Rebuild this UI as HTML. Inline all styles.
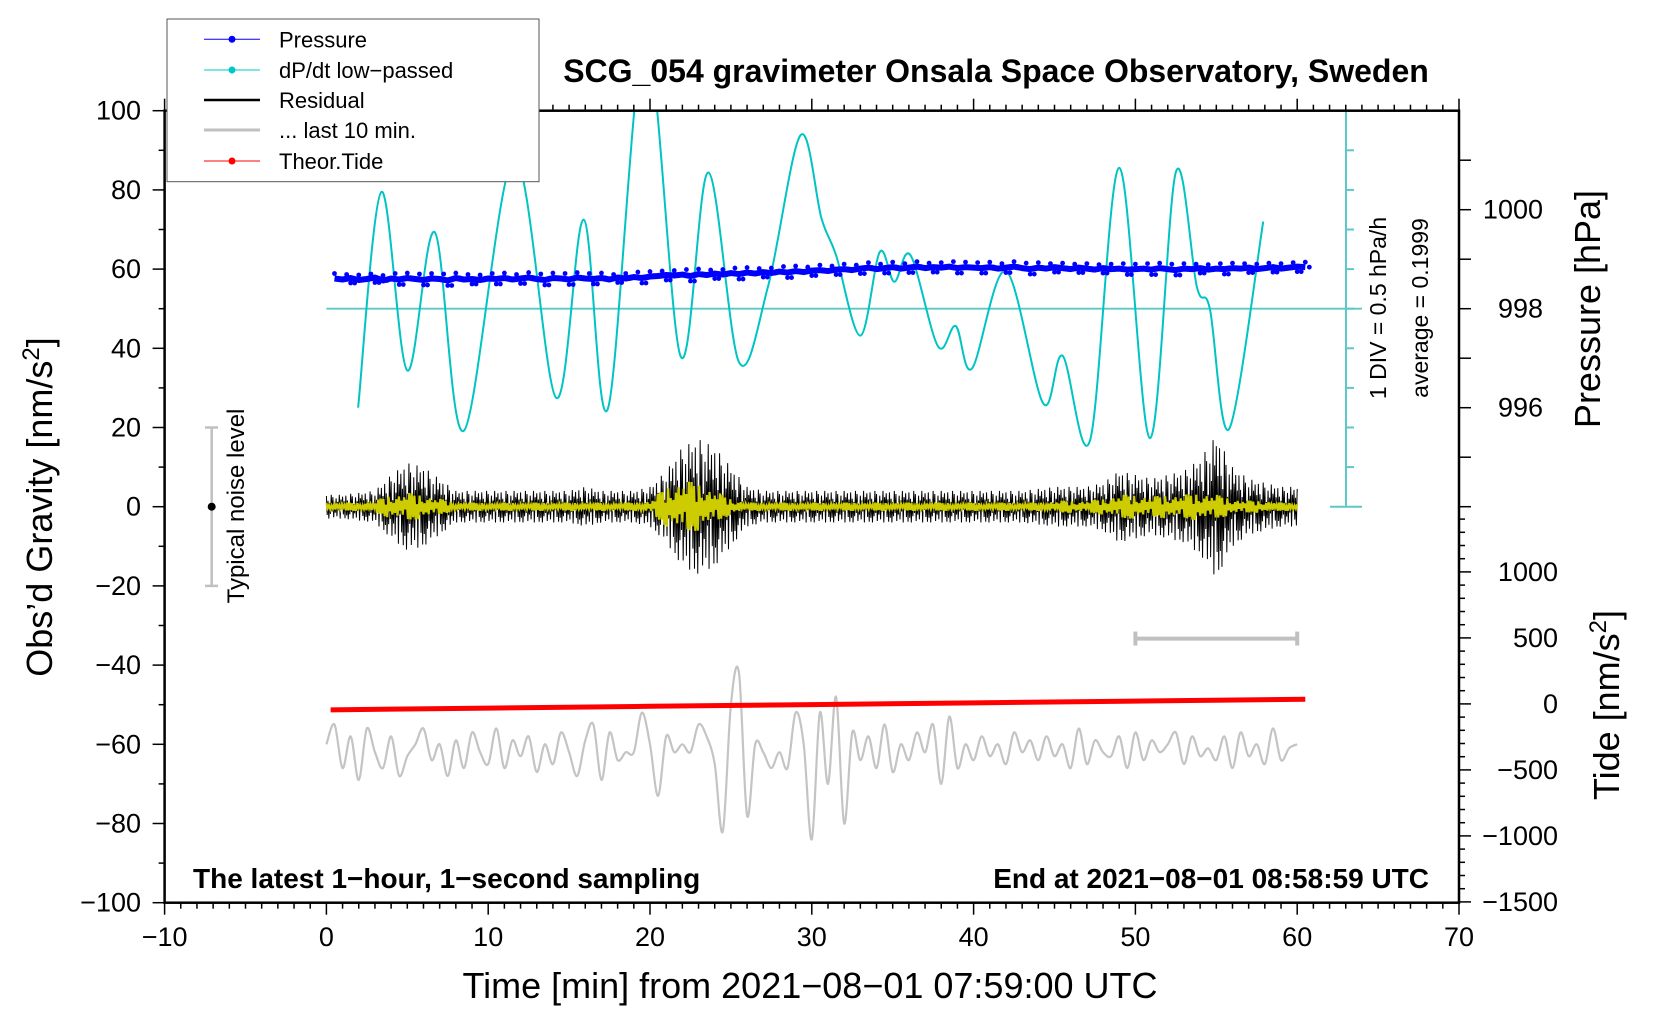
<!DOCTYPE html>
<html><head><meta charset="utf-8">
<style>
html,body{margin:0;padding:0;background:#fff;}
svg{display:block;font-family:"Liberation Sans",Arial,sans-serif;}
</style></head>
<body>
<svg id="chart" width="1660" height="1020" viewBox="0 0 1660 1020" xmlns="http://www.w3.org/2000/svg">
<defs><clipPath id="plotclip"><rect x="164.6" y="110.7" width="1294.4" height="792"/></clipPath></defs>
<rect x="0" y="0" width="1660" height="1020" fill="#fff"/>
<g id="marks" clip-path="url(#plotclip)"></g>
<g id="axes"></g>
<text x="996" y="82" font-size="32" font-weight="bold" text-anchor="middle">SCG_054 gravimeter Onsala Space Observatory, Sweden</text>
<text x="810" y="998" font-size="36" text-anchor="middle">Time [min] from 2021−08−01 07:59:00 UTC</text>
<text transform="translate(52,507) rotate(-90)" font-size="36" text-anchor="middle">Obs’d Gravity [nm/s<tspan font-size="24" dy="-13">2</tspan><tspan dy="13">]</tspan></text>
<text transform="translate(1600,309) rotate(-90)" font-size="36" text-anchor="middle">Pressure [hPa]</text>
<text transform="translate(1619,705) rotate(-90)" font-size="36" text-anchor="middle">Tide [nm/s<tspan font-size="24" dy="-13">2</tspan><tspan dy="13">]</tspan></text>
<text x="193" y="888" font-size="28" font-weight="bold">The latest 1−hour, 1−second sampling</text>
<text x="1429" y="888" font-size="28" font-weight="bold" text-anchor="end">End at 2021−08−01 08:58:59 UTC</text>
<text transform="translate(1386,308) rotate(-90)" font-size="23" text-anchor="middle">1 DIV = 0.5 hPa/h</text>
<text transform="translate(1428,308) rotate(-90)" font-size="23" text-anchor="middle">average = 0.1999</text>
<g>
<line x1="211.7" y1="427.5" x2="211.7" y2="585.9" stroke="#c0c0c0" stroke-width="2.5"/>
<line x1="205" y1="427.5" x2="218" y2="427.5" stroke="#c0c0c0" stroke-width="2.5"/>
<line x1="205" y1="585.9" x2="218" y2="585.9" stroke="#c0c0c0" stroke-width="2.5"/>
<circle cx="211.7" cy="506.7" r="4" fill="#000"/>
<text transform="translate(244,506) rotate(-90)" font-size="24" text-anchor="middle">Typical noise level</text>
</g>
<g id="legend">
<rect x="167" y="19" width="372" height="162.7" fill="#fff" stroke="#555" stroke-width="1"/>
<g><line x1="204" y1="39.3" x2="260" y2="39.3" stroke="#0000ff" stroke-width="1"/><circle cx="232" cy="39.3" r="3.5" fill="#0000ff"/><text x="279" y="47.5" font-size="22">Pressure</text></g>
<g><line x1="204" y1="70" x2="260" y2="70" stroke="#00c8c8" stroke-width="1"/><circle cx="232" cy="70" r="3.5" fill="#00c8c8"/><text x="279" y="78" font-size="22">dP/dt low−passed</text></g>
<g><line x1="204" y1="100" x2="260" y2="100" stroke="#000" stroke-width="2.5"/><text x="279" y="108" font-size="22">Residual</text></g>
<g><line x1="204" y1="130" x2="260" y2="130" stroke="#c0c0c0" stroke-width="3"/><text x="279" y="138" font-size="22">... last 10 min.</text></g>
<g><line x1="204" y1="161" x2="260" y2="161" stroke="#ff0000" stroke-width="1"/><circle cx="232" cy="161" r="3.5" fill="#ff0000"/><text x="279" y="169" font-size="22">Theor.Tide</text></g>
</g>
</svg>
<script>
// ---- data ----
const pressureHPa = [998.61,998.59,998.62,998.58,998.60,998.63,998.57,998.61,998.59,998.62,998.60,998.58,998.61,998.60,998.57,998.62,998.59,998.60,998.58,998.61,
998.60,998.62,998.59,998.61,998.63,998.60,998.58,998.62,998.61,998.59,998.63,998.61,998.60,998.62,998.59,998.63,998.61,998.64,998.62,998.65,
998.66,998.68,998.67,998.69,998.66,998.70,998.68,998.71,998.69,998.72,998.70,998.73,998.71,998.74,998.72,998.75,998.73,998.76,998.74,998.77,
998.78,998.76,998.79,998.80,998.78,998.81,998.83,998.80,998.82,998.84,998.81,998.83,998.85,998.82,998.84,998.83,998.85,998.82,998.84,998.83,
998.82,998.84,998.81,998.83,998.85,998.82,998.80,998.83,998.81,998.84,998.82,998.80,998.83,998.81,998.79,998.82,998.80,998.81,998.79,998.80,
998.81,998.79,998.82,998.80,998.78,998.81,998.80,998.82,998.79,998.81,998.80,998.82,998.81,998.83,998.80,998.82,998.84,998.81,998.83,998.85,998.84];
const dpdtTimes = [1.96,3.4,5.0,6.7,8.5,11.6,14.2,15.9,17.4,19.7,21.9,23.6,25.5,27.3,29.3,30.6,31.5,33.0,34.2,35.1,36.1,37.8,38.9,39.9,42.0,44.3,45.5,47.2,49.0,50.9,52.5,53.8,54.6,55.8,57.9];
const dpdtValues = [25,79.5,34.4,69.3,19.2,88,27.5,72.5,24.8,118,37.9,84.4,36.5,55.7,93.8,72.8,63.5,43.2,64.3,56.8,63.5,40.5,45.6,34.9,59.5,26.1,38.1,16.8,85.6,17.3,84.5,55.5,50,19.7,72];
const residualEnvelope = [3,3,3.5,4,8,11,10,7,4,4,4,4,4,4,4,4,5,4,4,4,5,9,15,17,15,10,5,4,4,4,4,4,4,4,4,4,4,4,4,4,4,4,4,4,4.5,5,5,5,6,9,8,7,8,9,12,18,10,7,6,5,5];
const yellowEnvelope = [1,1,1,1.5,3,3.5,3,2,1,1,1,1,1,1,1,1,1,1,1,1,1.5,5,6.5,6,4,2,1,1,1,1,1,1,1,1,1,1,1,1,1,1,1,1,1,1,1,1.5,1.5,1.5,2,3,3,2.5,3,3,3.5,3,2,1.5,1.5,1,1];
const residualPattern = [0.9,-0.7,0.5,-1,0.3,-0.6,1,-0.4,0.8,-0.9,0.2,-0.5,0.7,-0.8,0.4,-0.3,1,-1,0.6,-0.2,0.85,-0.65,0.45,-0.95];
const last10Values = [-60,-55,-66,-58,-69,-56,-62,-66,-58,-68,-63,-60,-56,-64,-60,-68,-59,-66,-57,-62,-65,-56,-66,-59,-63,-58,-67,-60,-65,-57,-62,-68,-59,-55,-69,-57,-64,-62,
-62,-52,-60,-73,-58,-62,-60,-62,-55,-58,-65,-82,-50,-42,-78,-60,-62,-66,-62,-66,-52,-60,-84,-52,-70,-48,-80,-57,-64,
-58,-66,-55,-67,-60,-64,-57,-62,-55,-70,-53,-66,-60,-64,-58,-63,-60,-65,-57,-62,-59,-64,-58,-63,-60,-66,-56,-65,-59,-62,-63,-58,-66,-57,-64,-59,-62,-60,-57,-65,-58,-63,-61,-64,-58,-66,-57,-63,-60,-65,-56,-64,-61,-60];
const tideTimes = [0.26,10,20,30,40,50,60.5];
const tideValues = [-45,-32,-18,-5,8,21,35];
const xTicks = [-10,0,10,20,30,40,50,60,70];
const yTicks = [-100,-80,-60,-40,-20,0,20,40,60,80,100];
const pressureTicks = [996,998,1000];
const tideTicks = [-1500,-1000,-500,0,500,1000];

// ---- scales ----
const X = m => 326.4 + m*16.18;
const Y = g => 902.7 - (g+100)*3.96;
const P = p => Y(50 + (p-998)*12.5);
const T = t => Y(-49.8 + t/30);
const NS = "http://www.w3.org/2000/svg";
const marks = document.getElementById('marks');
const axes = document.getElementById('axes');
function mk(tag, attrs, parent){ const e=document.createElementNS(NS,tag); for(const k in attrs) e.setAttribute(k,attrs[k]); parent.appendChild(e); return e; }
function smooth(pts){
  let d = 'M'+pts[0][0]+','+pts[0][1];
  for(let i=0;i<pts.length-1;i++){
    const p0=pts[Math.max(0,i-1)],p1=pts[i],p2=pts[i+1],p3=pts[Math.min(pts.length-1,i+2)];
    const c1=[p1[0]+(p2[0]-p0[0])/6,p1[1]+(p2[1]-p0[1])/6], c2=[p2[0]-(p3[0]-p1[0])/6,p2[1]-(p3[1]-p1[1])/6];
    d+=' C'+c1[0]+','+c1[1]+' '+c2[0]+','+c2[1]+' '+p2[0]+','+p2[1];
  }
  return d;
}

let base = mk('line',{x1:X(0),y1:Y(50),x2:1362,y2:Y(50),stroke:'#5cc8c8','stroke-width':1.8},marks);



let dp = mk('path',{d:smooth(dpdtTimes.map((t,i)=>[X(t),Y(dpdtValues[i])])),fill:'none',stroke:'#00c4c4','stroke-width':2},marks);



let pp = pressureHPa.map((p,i)=>X(0.5+i*0.5)+','+P(p)).join(' ');
let pl = mk('polyline',{points:pp,fill:'none',stroke:'#0000ff','stroke-width':6,'stroke-linejoin':'round'},marks);


pressureHPa.forEach((p,i)=>{
  const c = mk('circle',{cx:X(0.5+i*0.5),cy:P(p)+(i%3-1)*5,r:2.4,fill:'#0000ff'},marks);
  
  
  const c2 = mk('circle',{cx:X(0.75+i*0.5),cy:P(p)+((i+1)%3-1)*-5,r:2.4,fill:'#0000ff'},marks);
  
  
});

function envAt(env,m){ const i=Math.floor(m), f=m-i; const a=env[Math.min(i,env.length-1)], b=env[Math.min(i+1,env.length-1)]; return a+(b-a)*f; }
let rp=[];
for(let k=0;k<=1200;k++){ const m=k*0.05; rp.push(X(m)+','+Y(envAt(residualEnvelope,m)*residualPattern[k%residualPattern.length])); }
let rl = mk('polyline',{points:rp.join(' '),fill:'none',stroke:'#000','stroke-width':1},marks);


let yp=[];
for(let k=0;k<=750;k++){ const m=k*0.08; yp.push(X(m)+','+Y(envAt(yellowEnvelope,m)*residualPattern[(k*7)%residualPattern.length])); }
let yl = mk('polyline',{points:yp.join(' '),fill:'none',stroke:'#cccc00','stroke-width':2.2},marks);



let gl = mk('path',{d:smooth(last10Values.map((v,i)=>[X(i*0.5),Y(v)])),fill:'none',stroke:'#c4c4c4','stroke-width':2.2},marks);



let tp = tideTimes.map((t,i)=>X(t)+','+T(tideValues[i])).join(' ');
let tl = mk('polyline',{points:tp,fill:'none',stroke:'#ff0000','stroke-width':5},marks);



let br = mk('g',{stroke:'#c0c0c0','stroke-width':4},axes);


mk('line',{x1:X(50),y1:Y(-33.3),x2:X(60),y2:Y(-33.3)},br);
mk('line',{x1:X(50),y1:Y(-33.3)-7,x2:X(50),y2:Y(-33.3)+7},br);
mk('line',{x1:X(60),y1:Y(-33.3)-7,x2:X(60),y2:Y(-33.3)+7},br);

let ca = mk('g',{stroke:'#5cc8c8','stroke-width':2},axes);


mk('line',{x1:1346,y1:Y(100),x2:1346,y2:Y(0)},ca);
mk('line',{x1:1330,y1:Y(100),x2:1362,y2:Y(100)},ca);
mk('line',{x1:1330,y1:Y(0),x2:1362,y2:Y(0)},ca);
for(let v=10;v<100;v+=10) mk('line',{x1:1346,y1:Y(v),x2:1354,y2:Y(v)},ca);

let fr = mk('rect',{x:164.6,y:110.7,width:1294.4,height:792,fill:'none',stroke:'#000','stroke-width':2.5},axes);


let tk = mk('g',{stroke:'#000','stroke-width':1.5},axes);


for(let m=-10;m<=70;m++){ const L=(m%10===0)?12:6; mk('line',{x1:X(m),y1:902.7,x2:X(m),y2:902.7+L},tk); mk('line',{x1:X(m),y1:110.7,x2:X(m),y2:110.7-L},tk); }
for(let g=-100;g<=100;g+=10){ const L=(g%20===0)?12:6; mk('line',{x1:164.6,y1:Y(g),x2:164.6-L,y2:Y(g)},tk); }
for(let p=994;p<=1001;p++) mk('line',{x1:1459,y1:P(p),x2:1471,y2:P(p)},tk);
for(let t=-1500;t<=1400;t+=100){ const L=(t%500===0)?12:6; mk('line',{x1:1459,y1:T(t),x2:1459+L,y2:T(t)},tk); }

xTicks.forEach(v=>{ const t=mk('text',{x:X(v),y:946,'font-size':27,'text-anchor':'middle'},axes); t.textContent=String(v).replace('-','−');
    });
yTicks.forEach(v=>{ const t=mk('text',{x:141,y:Y(v)+9,'font-size':27,'text-anchor':'end'},axes); t.textContent=String(v).replace('-','−');
    });
pressureTicks.forEach(v=>{ const t=mk('text',{x:1543,y:P(v)+9,'font-size':27,'text-anchor':'end'},axes); t.textContent=String(v);
    });
tideTicks.forEach(v=>{ const t=mk('text',{x:1558,y:T(v)+9,'font-size':27,'text-anchor':'end'},axes); t.textContent=String(v).replace('-','−');
    });
const svg=document.getElementById('chart');
svg.appendChild(document.getElementById('legend'));
</script>
</body></html>
